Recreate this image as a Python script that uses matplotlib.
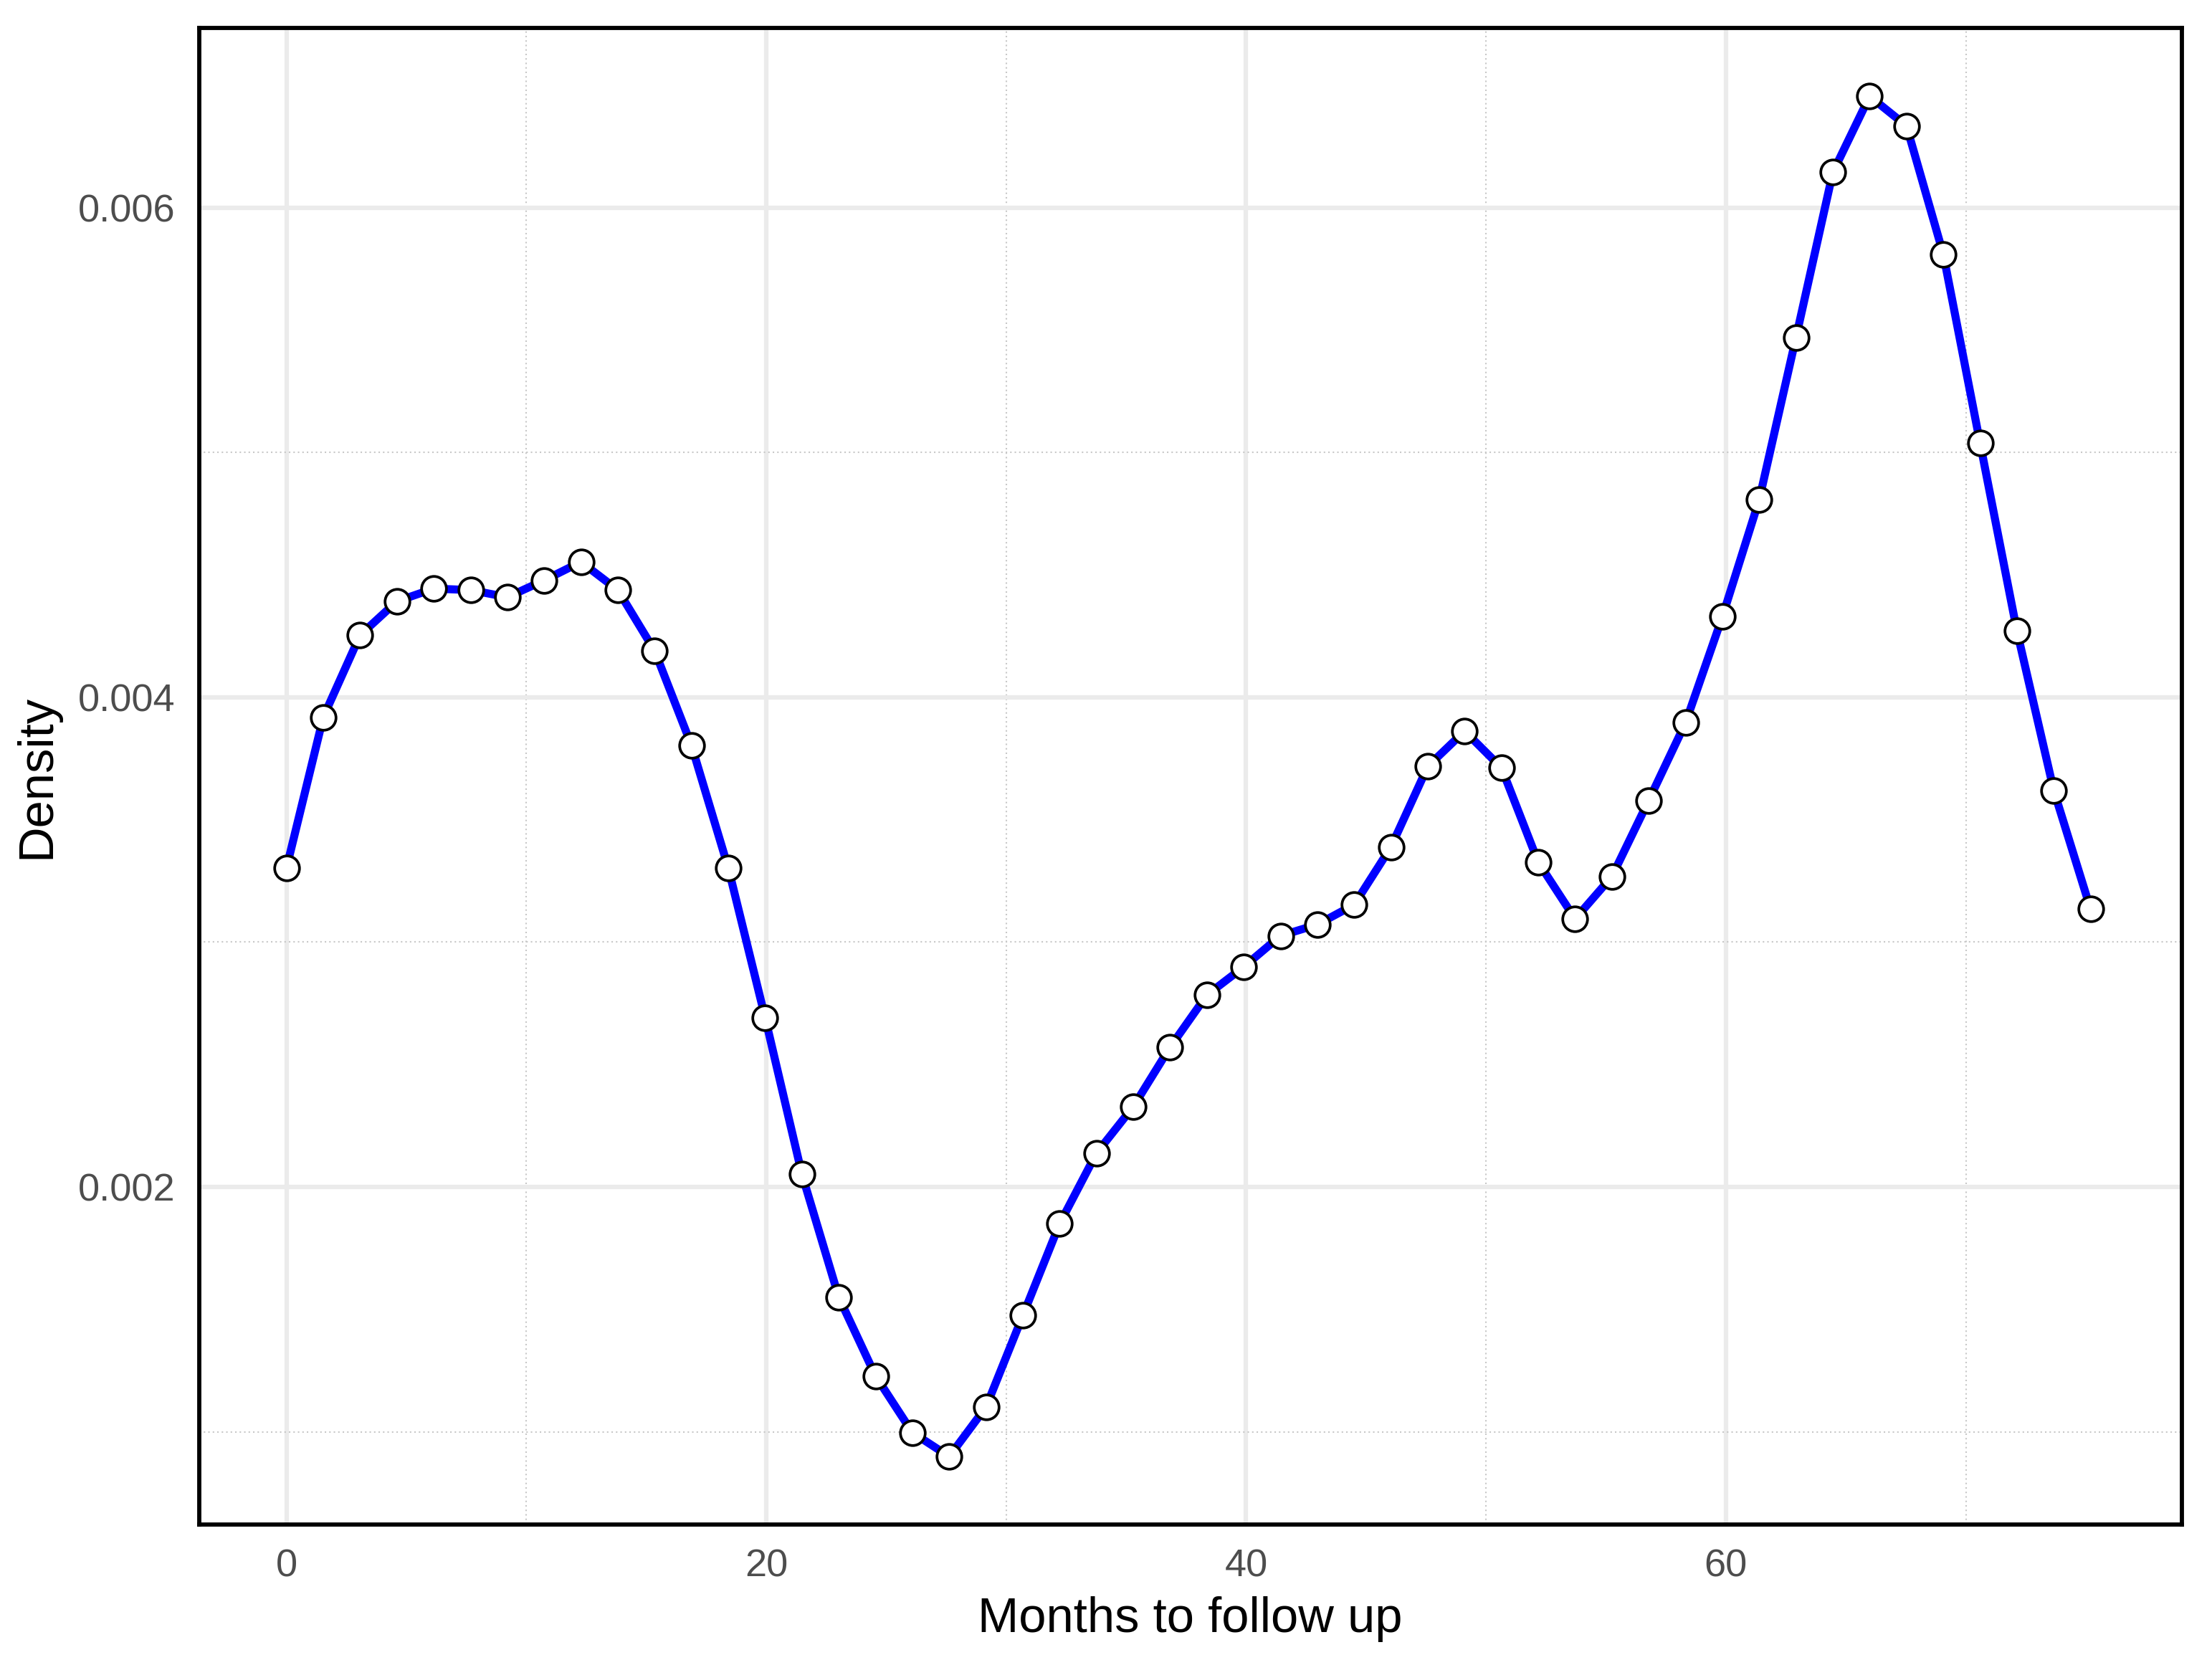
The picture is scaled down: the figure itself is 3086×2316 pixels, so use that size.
import numpy as np
import matplotlib
matplotlib.use("Agg")
from matplotlib import pyplot as plt
from matplotlib.ticker import MultipleLocator

plt.rcParams['font.family'] = ['Liberation Sans', 'DejaVu Sans']

# density estimate sampled at 50 points between 0 and ~75 months
x_max = 75.2
n_points = 50
density = [
    0.003303, 0.003919, 0.004254, 0.004392, 0.004444, 0.004438, 0.004409, 0.004478, 0.004553, 0.004438,
    0.004190, 0.003804, 0.003303, 0.002692, 0.002052, 0.001550, 0.001228, 0.000997, 0.000899, 0.001101,
    0.001475, 0.001850, 0.002138, 0.002328, 0.002571, 0.002784, 0.002899, 0.003026, 0.003072, 0.003153,
    0.003389, 0.003718, 0.003862, 0.003712, 0.003326, 0.003095, 0.003268, 0.003579, 0.003896, 0.004329,
    0.004807, 0.005470, 0.006144, 0.006455, 0.006334, 0.005810, 0.005038, 0.004271, 0.003620, 0.003135,
]
months = np.linspace(0, x_max, n_points)

x_ticks = [0, 20, 40, 60]
y_ticks = [0.002, 0.004, 0.006]
y_tick_labels = ["0.002", "0.004", "0.006"]

fig = plt.figure(figsize=(3087 / 300, 2316 / 300), dpi=300)
ax = fig.add_axes([0.0899, 0.0816, 0.8961, 0.9014])

ax.plot(months, density, color="blue", lw=2.7, zorder=3)
ax.plot(months, density, ls="none", marker="o", ms=8.3, mfc="white", mec="black", mew=0.9, zorder=4)

ax.set_xlim(-3.65, 79.0)
yr = max(density) - min(density)
ax.set_ylim(min(density) - 0.05 * yr, max(density) + 0.05 * yr)

ax.set_xticks(x_ticks)
ax.set_yticks(y_ticks)
ax.set_yticklabels(y_tick_labels)
ax.xaxis.set_minor_locator(MultipleLocator(10))
ax.yaxis.set_minor_locator(MultipleLocator(0.001))

ax.grid(which="major", color="#EBEBEB", lw=1.5, zorder=0)
ax.grid(which="minor", color="#C8C8C8", lw=0.5, ls=(0, (1, 2)), zorder=0)
ax.set_axisbelow(True)

ax.tick_params(which="both", length=0, labelsize=13, labelcolor="#4D4D4D", pad=8)
for s in ax.spines.values():
    s.set_color("black")
    s.set_linewidth(1.4)

ax.set_xlabel("Months to follow up", fontsize=16.5, labelpad=4)
ax.set_ylabel("Density", fontsize=16.5, labelpad=6)

fig.savefig("out.png", dpi=300)
